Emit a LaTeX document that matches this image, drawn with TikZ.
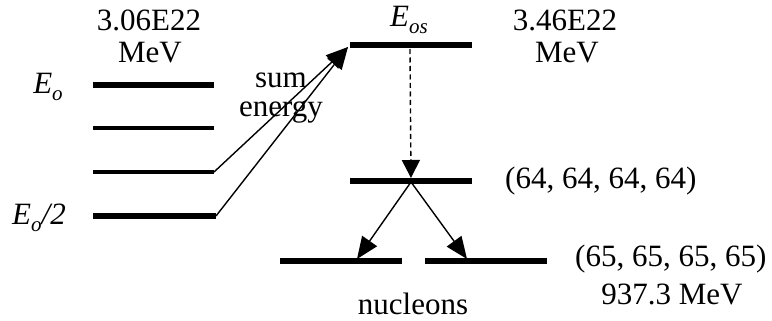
\documentclass[tikz,border=0pt]{standalone}
\usepackage{fontspec}
\setmainfont{Liberation Serif}
\usetikzlibrary{arrows.meta}
\tikzset{
  thickbar/.style={line width=6pt},
  thinbar/.style={line width=4.5pt},
  lbl/.style={font=\fontsize{31}{33}\selectfont, inner sep=0pt, align=center},
  conn/.style={line width=1.4pt, -{Triangle[length=22pt,width=18pt]}},
  dashconn/.style={line width=1.4pt, dash pattern=on 5pt off 3.5pt, -{Triangle[length=18pt,width=18pt]}},
}
\newcommand{\Esub}[1]{\textit{E}\raisebox{-0.22em}{\fontsize{21}{21}\selectfont\itshape #1}}
\begin{document}
\begin{tikzpicture}[x=1pt,y=-1pt]
\useasboundingbox (0,0) rectangle (772,321);
% left levels
\coordinate (a1) at (93,85);  \coordinate (a2) at (214,85);
\coordinate (b1) at (93,128); \coordinate (b2) at (214,128);
\coordinate (c1) at (93,172); \coordinate (c2) at (214,172);
\coordinate (d1) at (93,216); \coordinate (d2) at (216,216);
\draw[thickbar] (a1) -- (a2);
\draw[thinbar] (b1) -- (b2);
\draw[thinbar] (c1) -- (c2);
\draw[thickbar] (d1) -- (d2);
% right levels
\coordinate (e1) at (350,45);  \coordinate (e2) at (472,45);
\coordinate (f1) at (350,181); \coordinate (f2) at (472,181);
\coordinate (g1) at (280,261); \coordinate (g2) at (402,261);
\coordinate (h1) at (425,261); \coordinate (h2) at (547,261);
\draw[thickbar] (e1) -- (e2);
\draw[thickbar] (f1) -- (f2);
\draw[thickbar] (g1) -- (g2);
\draw[thickbar] (h1) -- (h2);
% connectors
\coordinate (tip) at (348,47);
\draw[conn] (c2) -- (tip);
\draw[conn] (d2) -- (tip);
\coordinate (ds) at (410,49);
\coordinate (fm) at (411,178);
\draw[dashconn] (ds) -- (fm);
\coordinate (fs) at (411,182);
\coordinate (gt) at (357,259);
\coordinate (ht) at (467,259);
\draw[conn] (fs) -- (gt);
\draw[conn] (fs) -- (ht);
% labels
\node[lbl] (t1) at (149,20) {3.06E22};
\node[lbl] (t2) at (150,53) {MeV};
\node[lbl] (t3) at (565,20) {3.46E22};
\node[lbl] (t4) at (567,53) {MeV};
\node[lbl] (eo) at (48,87) {\Esub{o}};
\node[lbl,anchor=west] (eo2) at (12,218) {\Esub{o}\textit{/2}};
\node[lbl] (eos) at (409,20) {\Esub{os}};
\node[lbl] (sum) at (281,80) {sum};
\node[lbl] (en) at (281,112) {energy};
\node[lbl,anchor=west] (l64) at (505,181) {(64, 64, 64, 64)};
\node[lbl,anchor=west] (l65) at (575,259) {(65, 65, 65, 65)};
\node[lbl] (mev) at (672,294) {937.3 MeV};
\node[lbl] (nuc) at (413,304) {nucleons};
\end{tikzpicture}
\end{document}
